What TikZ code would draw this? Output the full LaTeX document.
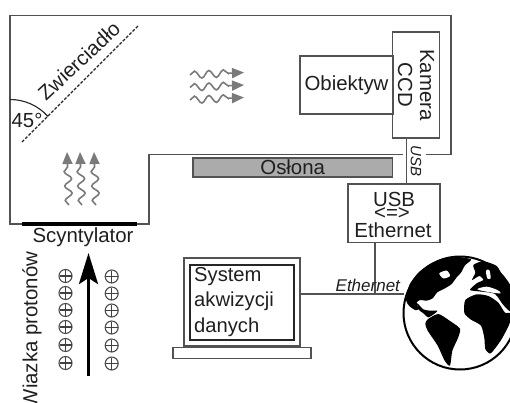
\documentclass[tikz,border=0pt]{standalone}
\usepackage{fontspec}
\setmainfont{Liberation Sans}
\usetikzlibrary{arrows.meta,positioning,decorations.pathmorphing}
\definecolor{wire}{gray}{0.32}
\definecolor{wave}{gray}{0.48}
\tikzset{
  every node/.style={font=\fontsize{20.4}{23}\selectfont,text=black!88,inner sep=0pt},
  comp/.style={draw=wire,line width=1.2pt,align=center},
  conn/.style={draw=wire,line width=1.2pt},
  lightwave/.style={
    wave,line width=1.6pt,-{Triangle[length=12pt,width=10pt]},
    decorate,decoration={snake,amplitude=3.6pt,segment length=14.5pt,post length=11pt}
  },
  land/.style={fill=black,draw=none},
  gap/.style={fill=white,draw=none}
}

\begin{document}
\begin{tikzpicture}[x=1pt,y=-1pt]
\useasboundingbox (0,0) rectangle (510,403);

\draw[conn] (426,154.7) -- (451,154.7) -- (451,15.5) -- (10,15.5) -- (10,224)
  -- (149,224) -- (149,154.7) -- (403,154.7);
\draw[black,line width=3.2pt] (22,224) -- (137,224);

% mirror
\draw[black!85,line width=1.3pt,dashed,dash pattern=on 3pt off 1.6pt] (22,142) -- (138,26);
\draw[black!85,line width=1.1pt] (10,99.5) arc[start angle=90,end angle=42,radius=51pt];
\node[rotate=43] (mirror) at (79,61) {Zwierciadło};
\node (angle) at (27,120.5) {45°};

\node[comp,rotate=-90,minimum width=106pt,minimum height=46.6pt] (camera) at (416,85) {Kamera\\[-1pt]CCD};
\node[comp,minimum width=93pt,minimum height=58pt] (lens) at (346.5,85) {Obiektyw};
\node[comp,fill=black!33,minimum width=199.5pt,minimum height=19pt] (shield) at (292.7,167.5) {Osłona};

\node[comp,minimum width=92pt,minimum height=58.7pt] (converter) at (394,213.4) {};
\node (usbtxt) at (394,199) {USB};
\node (convsign) at (392,214) {<=>};
\node (ethtxt) at (393,230) {Ethernet};

\coordinate (usbtop) at (406.7,138);
\draw[conn] (usbtop) -- (usbtop |- converter.north);
\node[rotate=-90,font=\fontsize{15}{15}\selectfont\itshape] (usblabel) at (416,161) {USB};

% waves
\foreach \y in {75,87.5,100}
  \draw[lightwave] (190,\y) -- (244,\y-2.5);
\foreach \x in {69,82,96}
  \draw[lightwave] (\x,205) -- (\x-2,152);

% beam
\node (scint) at (83,237) {Scyntylator};
\node[rotate=90] (beamlabel) at (32,330) {Wiazka protonów};
\coordinate (beamstart) at (88.5,376);
\coordinate (beamend) at (88.5,253);
\draw[black,line width=3.4pt,-{Stealth[length=31pt,width=19pt,inset=6pt]}] (beamstart) -- (beamend);
\foreach \y in {276,293,310,327,345,363} {
  \node[circle,draw=black!70,line width=1.1pt,minimum size=13pt] at (65.5,\y) {};
  \draw[black!75,line width=1.1pt] (59.5,\y) -- (71.5,\y) (65.5,\y-6) -- (65.5,\y+6);
  \node[circle,draw=black!70,line width=1.1pt,minimum size=13pt] at (111.7,\y+.5) {};
  \draw[black!75,line width=1.1pt] (105.7,\y+.5) -- (117.7,\y+.5) (111.7,\y-5.5) -- (111.7,\y+6.5);
}

% laptop
\node[comp,minimum width=116pt,minimum height=88pt] (laptop) at (242,302) {};
\node[draw=black!85,line width=2.4pt,minimum width=104pt,minimum height=75pt] (screen) at (242,302.5) {};
\node[comp,minimum width=138pt,minimum height=11pt,below=0pt of laptop] (base) {};
\node[align=left,font=\fontsize{20.2}{25.5}\selectfont,anchor=west] (systxt) at (194,302) {System\\akwizycji\\danych};

% globe
\node[circle,draw=black,line width=2pt,minimum size=113pt] (globe) at (460,313) {};
\coordinate (ethjoint) at (375,294);
\draw[conn] (converter.south -| ethjoint) -- (ethjoint);
\draw[conn] (ethjoint -| laptop.east) -- node[above=2pt,pos=.65,font=\fontsize{17}{17}\selectfont\itshape] (ethlabel) {Ethernet} (404,294);

\begin{scope}[shift={(400,250)},x=.3333pt,y=-.3333pt]
  \clip (0,0) rectangle (330,375);
  \fill[land] plot[smooth cycle,tension=.4] coordinates {
    (18,150) (28,105) (55,68) (90,42) (130,26) (165,20) (213,28) (195,46) (183,68) (170,82)
    (155,102) (135,115) (112,127) (98,145) (80,152) (60,150) (50,158) (55,178) (45,180) (28,168)};
  \fill[land] plot[smooth cycle,tension=.4] coordinates {
    (52,160) (70,178) (90,182) (112,182) (105,190) (85,202) (70,190) (55,178)};
  \fill[land] plot[smooth cycle,tension=.4] coordinates {
    (83,208) (115,192) (150,213) (180,236) (174,264) (157,302) (150,347) (134,332) (113,287) (83,242) (76,222)};
  \fill[land] plot[smooth cycle,tension=.4] coordinates {
    (196,150) (230,133) (265,138) (295,158) (315,188) (335,190) (327,225) (302,272) (272,310) (256,297) (253,264) (243,227) (213,209) (193,189)};
  \fill[land] plot[smooth cycle,tension=.4] coordinates {
    (220,45) (250,34) (290,48) (312,85) (335,120) (335,185) (310,165) (285,132) (245,125) (210,120) (230,100) (250,90) (238,78) (216,90) (226,68)};
  \fill[gap] plot[smooth cycle,tension=.5] coordinates {(232,118) (260,110) (292,120) (302,130) (270,127)};
  \fill[gap] plot[smooth cycle] coordinates {(118,70) (140,62) (150,78) (130,85)};
  \fill[gap] plot[smooth cycle] coordinates {(258,62) (268,60) (272,85) (262,85)};
\end{scope}
\end{tikzpicture}
\end{document}
